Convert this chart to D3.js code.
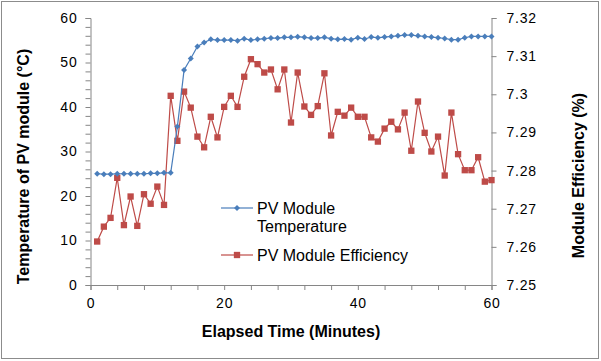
<!DOCTYPE html>
<html lang="en">
<head>
<meta charset="UTF-8">
<title>PV module temperature and efficiency</title>
<script src="https://cdn.jsdelivr.net/npm/d3@7"></script>
<style>
    body { margin: 0; background: #fff; }
    svg { display: block; font-family: "Liberation Sans", Arial, sans-serif; }
    .tick text { font-size: 14px; fill: #000; letter-spacing: 0.8px; }
    .axis-title { font-size: 16px; font-weight: bold; fill: #000; }
    .legend text { font-size: 16px; fill: #000; }
</style>
</head>
<body>
<svg></svg>
<script>
    // DATA
    // elapsed time, one reading per minute
    const minutes = d3.range(1, 61);

    // module temperature (°C), left axis
    const temperature = [
        25.0, 24.9, 24.9, 25.0, 25.0, 25.0, 25.0, 25.0, 25.1, 25.1,
        25.2, 25.2, 35.6, 48.3, 50.9, 53.6, 54.5, 55.2, 55.05, 55.05,
        55.05, 54.9, 55.35, 55.05, 55.2, 55.35, 55.5, 55.5, 55.65, 55.65,
        55.8, 55.65, 55.5, 55.5, 55.65, 55.35, 55.2, 55.27, 55.13, 55.57,
        55.27, 55.72, 55.57, 55.72, 55.87, 56.0, 56.17, 56.17, 56.0, 55.87,
        55.72, 55.57, 55.4, 55.13, 55.13, 55.57, 55.87, 55.87, 55.87, 55.87
    ];

    // module efficiency (%), right axis
    const efficiency = [
        7.2614, 7.2653, 7.2676, 7.2781, 7.2657, 7.2732, 7.2655, 7.2738, 7.2713, 7.2758,
        7.2710, 7.2996, 7.2878, 7.3007, 7.2965, 7.2889, 7.2861, 7.2941, 7.2887, 7.2967,
        7.2996, 7.2967, 7.3046, 7.3092, 7.3079, 7.3057, 7.3065, 7.3013, 7.3065, 7.2926,
        7.3057, 7.2968, 7.2946, 7.2969, 7.3055, 7.2892, 7.2954, 7.2944, 7.2965, 7.2941,
        7.2941, 7.2887, 7.2876, 7.2910, 7.2928, 7.2908, 7.2952, 7.2852, 7.2981, 7.2899,
        7.2850, 7.2889, 7.2787, 7.2952, 7.2843, 7.2801, 7.2801, 7.2835, 7.2771, 7.2775
    ];

    // axis ticks
    const xTicks = d3.range(0, 61, 4);
    const xLabels = [0, 20, 40, 60];
    const yTicks = d3.range(0, 61, 2);
    const yLabels = [0, 10, 20, 30, 40, 50, 60];
    const y2Ticks = [7.25, 7.26, 7.27, 7.28, 7.29, 7.30, 7.31, 7.32];

    const seriesNames = ["PV Module Temperature", "PV Module Efficiency"];

    // CHART dimensions
    const dim = {width: 601, height: 361};
    const plot = {left: 90.5, right: 491.5, top: 18, bottom: 285};
    const blue = "#4a7ebb", red = "#be4b48", axisGray = "#868686";

    const svg = d3.select("svg")
        .attr("width", dim.width)
        .attr("height", dim.height);

    // outer frame of the chart
    svg.append("rect")
        .attr("x", 1.5).attr("y", 1.5)
        .attr("width", dim.width - 4).attr("height", dim.height - 4)
        .attr("fill", "#fff")
        .attr("stroke", "#8c8c8c");

    // SCALES
    const x = d3.scaleLinear().domain([0, 60]).range([plot.left, plot.right]);
    const y = d3.scaleLinear().domain([0, 60]).range([plot.bottom, plot.top]);
    const y2 = d3.scaleLinear().domain([7.25, 7.32]).range([plot.bottom, plot.top]);

    // AXES
    function styleAxis(g) {
        g.select(".domain").attr("stroke", axisGray);
        g.selectAll(".tick line").attr("stroke", axisGray);
    }

    svg.append("g")
        .attr("transform", `translate(0,${plot.bottom})`)
        .call(d3.axisBottom(x).tickValues(xTicks).tickSizeOuter(0).tickSize(5).tickPadding(8)
            .tickFormat(d => xLabels.includes(d) ? d : ""))
        .call(styleAxis);

    svg.append("g")
        .attr("transform", `translate(${plot.left},0)`)
        .call(d3.axisLeft(y).tickValues(yTicks).tickSizeOuter(0).tickSize(5).tickPadding(8)
            .tickFormat(d => yLabels.includes(d) ? d : ""))
        .call(styleAxis);

    svg.append("g")
        .attr("transform", `translate(${plot.right},0)`)
        .call(d3.axisRight(y2).tickValues(y2Ticks).tickSizeOuter(0).tickSize(5).tickPadding(10)
            .tickFormat(d => d3.format("")(+d.toFixed(2))))
        .call(styleAxis);

    // axis titles
    svg.append("text").attr("class", "axis-title")
        .attr("x", (plot.left + plot.right) / 2).attr("y", 337)
        .attr("text-anchor", "middle")
        .text("Elapsed Time (Minutes)");

    svg.append("text").attr("class", "axis-title")
        .attr("transform", `translate(29,${(plot.top + plot.bottom) / 2 + 15}) rotate(-90)`)
        .attr("text-anchor", "middle")
        .text("Temperature of PV module (°C)");

    svg.append("text").attr("class", "axis-title")
        .attr("transform", `translate(584,${(plot.top + plot.bottom) / 2 + 24}) rotate(-90)`)
        .attr("text-anchor", "middle")
        .text("Module Efficiency (%)");

    // SERIES
    const tempData = minutes.map((m, i) => ({x: m, y: temperature[i]}));
    const effData = minutes.map((m, i) => ({x: m, y: efficiency[i]}));

    const diamond = d3.symbol().type(d3.symbolSquare).size(18);
    const square = d3.symbol().type(d3.symbolSquare).size(40);

    svg.append("path")
        .datum(effData)
        .attr("fill", "none").attr("stroke", red).attr("stroke-width", 1.2)
        .attr("d", d3.line().x(d => x(d.x)).y(d => y2(d.y)));

    svg.append("g").selectAll("path")
        .data(effData)
        .join("path")
            .attr("transform", d => `translate(${x(d.x)},${y2(d.y)})`)
            .attr("d", square)
            .attr("fill", red);

    svg.append("path")
        .datum(tempData)
        .attr("fill", "none").attr("stroke", blue).attr("stroke-width", 1.2)
        .attr("d", d3.line().x(d => x(d.x)).y(d => y(d.y)));

    svg.append("g").selectAll("path")
        .data(tempData)
        .join("path")
            .attr("transform", d => `translate(${x(d.x)},${y(d.y)}) rotate(45)`)
            .attr("d", diamond)
            .attr("fill", blue);

    // LEGEND
    const legend = svg.append("g").attr("class", "legend");
    const legendItems = [
        {name: seriesNames[0], lines: ["PV Module", "Temperature"], color: blue, marker: diamond, rot: 45, y: 208},
        {name: seriesNames[1], lines: [seriesNames[1]], color: red, marker: square, rot: 0, y: 255}
    ];
    legendItems.forEach(item => {
        const g = legend.append("g");
        g.append("line")
            .attr("x1", 221).attr("x2", 253)
            .attr("y1", item.y).attr("y2", item.y)
            .attr("stroke", item.color).attr("stroke-width", 1.2);
        g.append("path")
            .attr("transform", `translate(237,${item.y}) rotate(${item.rot})`)
            .attr("d", item.marker)
            .attr("fill", item.color);
        const t = g.append("text").attr("x", 257).attr("y", item.y + 6);
        item.lines.forEach((s, i) => {
            t.append("tspan").attr("x", 257).attr("dy", i ? 18.4 : 0).text(s);
        });
    });
</script>
</body>
</html>
